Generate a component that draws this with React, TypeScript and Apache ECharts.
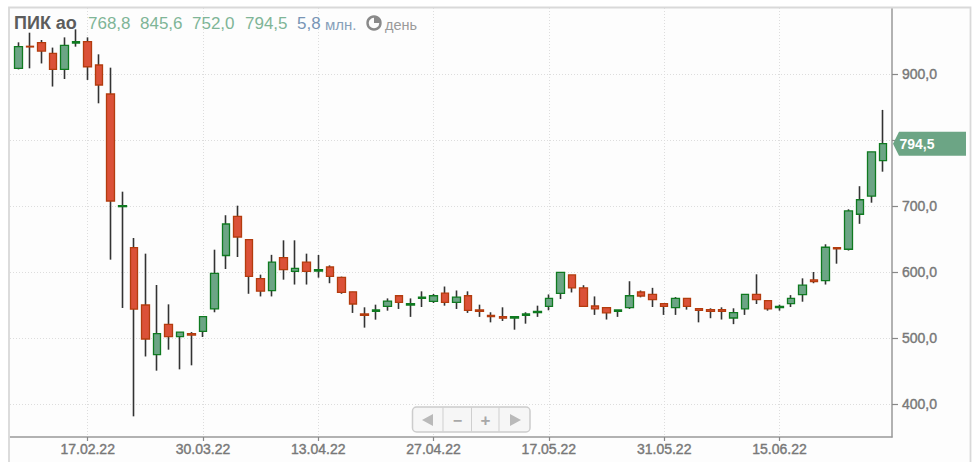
import React, { useEffect, useRef } from "react";
import * as echarts from "echarts";

const opens = [908.6,942,947.5,931.3,907,947,949,913.6,869.7,699,636.9,550,474.7,520.7,502,506.6,510,544,625,684.3,649,590,571.7,621.7,601,615,601.5,607.6,592,570,536.4,540.4,548,564,550,560,555.6,568,554,564,542.4,534.3,532.3,530.3,534.3,538.4,548,567.7,595.5,576,548.5,546,540.4,546,569.7,566,552,546,560,544.4,543,543,530.3,544,566,556.6,546,552,565.6,588,587,637,634.5,687.5,715,768.8];
const closes = [941.4,941,934.8,907,943.4,949,911,883.3,707.6,700.5,543.9,498.5,506.6,502,509,504.5,532.3,598,672.7,653,593.4,571,615,603.5,605.5,601,603.5,593.4,569,551.5,534.3,542.4,556,554,552,562,564,554,562,542,540.4,532.3,530,532.3,536.4,540.4,560,599.5,575.8,548,544,538,542.4,564,563.6,558,548,560,548,542,540.4,540.4,538.4,566,558,544,548,560,580,585.4,637.5,635,692.5,709.5,782,794.5];
const lows = [907,908.6,916,881,892.4,941.4,891,855.6,618.7,545.5,381.3,472,450.5,482.3,452.5,458.6,501.5,539,604.5,622.7,567,563,563,588.4,581,581,591.4,583,567,538,515.7,527.8,541.4,544,532,547,553,549,544,538,532,523.7,525.8,512.6,521.7,532,542,559,569,548,535,528,532,544,561.6,547,535,535,543,523.7,530,528,521,535,551.5,541.4,541.4,547,555,583,581,612.6,632.5,673,705,752];
const highs = [948,962.6,951.5,940,955.5,967.7,955.5,929.8,909.6,721.7,651.5,627.8,580.3,551,509,509,532.3,633.8,686,700.5,649,596,626,648,648,627.8,625.8,610,593,570,546.5,550.5,560,564,560,570.7,566.7,578,572,570.7,550.5,539,546.5,532.3,539,549,566,599.5,595.5,580,563,546,542.4,586,572,576,552,562,560,544.4,545,546.5,545,566,596.5,556.6,550.5,565,590.4,600,642,637,695,730,782,845.6];

const xTickIndexes = [6, 16, 26, 36, 46, 56, 66];
const xTickLabels = ["17.02.22", "30.03.22", "13.04.22", "27.04.22", "17.05.22", "31.05.22", "15.06.22"];
const yTicks = [400, 500, 600, 700, 800, 900];
const yTickLabels = [400, 500, 600, 700, 900];

const instrument = "ПИК ао";
const quoteTexts = ["768,8", "845,6", "752,0", "794,5"];
const lastPrice = 794.5;
const lastPriceLabel = "794,5";

const GREEN = "#6ca585";
const GREEN_B = "#0f7a20";
const RED = "#db5138";
const RED_B = "#b33c0e";
const SANS = "'Liberation Sans', Arial, sans-serif";
const TICK_COLOR = "#787878";

export default function App() {
  const ref = useRef<HTMLDivElement>(null);
  useEffect(() => {
    document.body.style.margin = "0";
    const chart = echarts.init(ref.current!, undefined, { renderer: "svg" });
    const bodies = opens.map((o, i) => [i, o, closes[i], Math.min(o, closes[i]), Math.max(o, closes[i])]);
    const wicks = opens.map((o, i) => [i, o, closes[i], lows[i], highs[i]]);
    const quoteX = [88, 140, 192, 245];

    chart.setOption({
      animation: false,
      backgroundColor: "#ffffff",
      textStyle: { fontFamily: SANS },
      grid: { left: 10, right: 85, top: 8, bottom: 25, containLabel: false },
      xAxis: {
        type: "value",
        min: -0.737,
        max: 75.76,
        axisLine: { onZero: false, lineStyle: { color: "#999999", width: 1.5 } },
        axisTick: { show: true, length: 4, customValues: xTickIndexes, lineStyle: { color: "#888888", width: 1.2 } },
        axisLabel: {
          customValues: xTickIndexes,
          formatter: (v: number) => xTickLabels[xTickIndexes.indexOf(v)] ?? "",
          color: TICK_COLOR,
          fontSize: 14,
          fontFamily: SANS,
          textBorderColor: TICK_COLOR,
          textBorderWidth: 0.4,
          margin: 5,
        },
        splitLine: { show: true, lineStyle: { color: "#dddddd", type: [1, 2], width: 1 } },
      },
      yAxis: {
        type: "value",
        position: "right",
        min: 350,
        max: 1000,
        axisLine: { show: true, onZero: false, lineStyle: { color: "#999999", width: 1.5 } },
        axisTick: { show: true, length: 6, customValues: yTicks, lineStyle: { color: "#888888", width: 1.2 } },
        axisLabel: {
          customValues: yTickLabels,
          formatter: (v: number) => v.toFixed(1).replace(".", ","),
          color: TICK_COLOR,
          fontSize: 14,
          fontFamily: SANS,
          textBorderColor: TICK_COLOR,
          textBorderWidth: 0.4,
          margin: 10,
        },
        splitLine: { show: true, lineStyle: { color: "#dddddd", type: [1, 2], width: 1 } },
      },
      series: [
        {
          type: "candlestick",
          name: "wicks",
          barWidth: 1,
          encode: { x: 0, y: [1, 2, 3, 4] },
          itemStyle: { color: "#333333", color0: "#333333", borderColor: "#333333", borderColor0: "#333333", borderWidth: 1.6 },
          data: wicks,
          z: 3,
        },
        {
          type: "candlestick",
          name: "bodies",
          barWidth: 8,
          encode: { x: 0, y: [1, 2, 3, 4] },
          itemStyle: { color: GREEN, color0: RED, borderColor: GREEN_B, borderColor0: RED_B, borderWidth: 1.3 },
          data: bodies,
          z: 4,
        },
      ],
      graphic: [
        { type: "rect", z: -10, shape: { x: 9, y: 7.5, width: 961.5, height: 455 }, style: { fill: "#fdfdfd" } },
        { type: "polyline", z: 1, shape: { points: [[9, 462], [9, 7.5], [970.5, 7.5], [970.5, 462]] }, style: { stroke: "#d9d9d9", lineWidth: 1.8, fill: "none" } },
        { type: "text", z: 1, x: 14, y: 23, style: { text: instrument, fill: "#5c5c5c", font: `bold 18px ${SANS}`, textVerticalAlign: "middle" } },
        ...quoteTexts.map((t, i) => ({ type: "text", z: 1, x: quoteX[i], y: 23, style: { text: t, fill: "#7fb597", font: `17px ${SANS}`, textVerticalAlign: "middle" } })),
        { type: "text", z: 1, x: 297, y: 23, style: { text: "5,8", fill: "#7895b5", font: `17px ${SANS}`, textVerticalAlign: "middle" } },
        { type: "text", z: 1, x: 325, y: 24, style: { text: "млн.", fill: "#87a0ba", font: `15px ${SANS}`, textVerticalAlign: "middle" } },
        { type: "circle", z: 1, shape: { cx: 374, cy: 23, r: 6.5 }, style: { fill: "#fdfdfd", stroke: "#8a8a8a", lineWidth: 2.4 } },
        { type: "sector", z: 1, shape: { cx: 374, cy: 23, r0: 0, r: 6.5, startAngle: -Math.PI / 2, endAngle: 0 }, style: { fill: "#8a8a8a" } },
        { type: "text", z: 1, x: 385, y: 25, style: { text: "день", fill: "#9a9a9a", font: `14.5px ${SANS}`, textVerticalAlign: "middle" } },
        { type: "rect", z: 5, shape: { x: 412.5, y: 407, width: 117.5, height: 25, r: 4 }, style: { fill: "#f6f6f6", stroke: "#cccccc", lineWidth: 1.5 } },
        ...[443, 471.5, 499].map((x) => ({ type: "line", z: 5, shape: { x1: x, y1: 407.5, x2: x, y2: 431.5 }, style: { stroke: "#cfcfcf", lineWidth: 1 } })),
        { type: "polygon", z: 6, shape: { points: [[422, 420], [433, 414], [433, 426]] }, style: { fill: "#b9b9b9" } },
        { type: "polygon", z: 6, shape: { points: [[521, 420], [510, 414], [510, 426]] }, style: { fill: "#b9b9b9" } },
        { type: "text", z: 6, x: 457.5, y: 420, style: { text: "−", fill: "#a8a8a8", font: `bold 16px ${SANS}`, textAlign: "center", textVerticalAlign: "middle" } },
        { type: "text", z: 6, x: 485.5, y: 420, style: { text: "+", fill: "#a8a8a8", font: `bold 17px ${SANS}`, textAlign: "center", textVerticalAlign: "middle" } },
      ],
    });

    const tagY = chart.convertToPixel({ yAxisIndex: 0 }, lastPrice) as number;
    chart.setOption({
      graphic: [
        {
          id: "tag",
          type: "polygon",
          z: 5,
          shape: { points: [[893, tagY], [899, tagY - 12], [966, tagY - 12], [966, tagY + 12], [899, tagY + 12]] },
          style: { fill: GREEN },
        },
        { id: "tagText", type: "text", z: 6, x: 899.5, y: tagY, style: { text: lastPriceLabel, fill: "#ffffff", font: `bold 14px ${SANS}`, textVerticalAlign: "middle" } },
      ],
    });
    return () => chart.dispose();
  }, []);
  return <div ref={ref} style={{ width: 977, height: 462 }} />;
}
